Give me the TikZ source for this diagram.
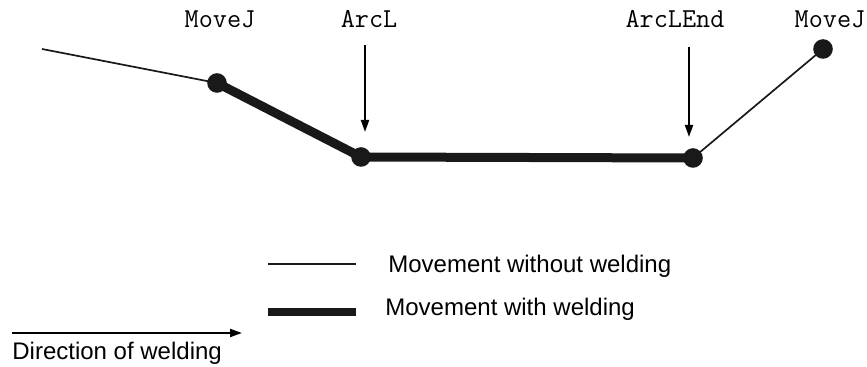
\documentclass[tikz,border=0pt]{standalone}
\usepackage{fontspec}
\setmainfont{Liberation Sans}
\usetikzlibrary{arrows.meta,positioning}

\begin{document}
\begin{tikzpicture}[
    x=0.5pt, y=-0.5pt,
    move/.style={line width=0.85pt, black!90},
    weld/.style={line width=4.5pt, black!90},
    dot/.style={circle, fill=black!90, inner sep=0pt, minimum size=9.8pt},
    pointer/.style={-{Triangle[length=6pt, width=4pt]}, line width=1pt},
    cmd/.style={font=\ttfamily\fontsize{13.7}{16}\selectfont, inner sep=0pt, anchor=base},
    label/.style={font=\fontsize{12}{14}\selectfont, inner sep=0pt, anchor=base west}
]
\useasboundingbox (0,0) rectangle (867,367);

% Path points
\coordinate (start) at (42,49);
\coordinate (pMoveA) at (217,83);
\coordinate (pArcL) at (361,157);
\coordinate (pArcLEnd) at (693,158);
\coordinate (pMoveB) at (823,49);

% Path
\draw[move] (start) -- (pMoveA);
\draw[weld] (pMoveA) -- (pArcL) -- (pArcLEnd);
\draw[move] (pArcLEnd) -- (pMoveB);

\node[dot] (dMoveA) at (pMoveA) {};
\node[dot] (dArcL) at (pArcL) {};
\node[dot] (dArcLEnd) at (pArcLEnd) {};
\node[dot] (dMoveB) at (pMoveB) {};

% Instruction labels
\node[cmd] (lMoveA) at (220,28) {MoveJ};
\node[cmd] (lArcL) at (369,28) {ArcL};
\node[cmd] (lArcLEnd) at (675,28) {ArcLEnd};
\node[cmd] (lMoveB) at (830,28) {MoveJ};

% Arrows to the weld points
\coordinate (tArcL) at (365,45);
\coordinate (hArcL) at (365,132);
\coordinate (tArcLEnd) at (689,47);
\coordinate (hArcLEnd) at (689,137);
\draw[pointer] (tArcL) -- (hArcL);
\draw[pointer] (tArcLEnd) -- (hArcLEnd);

% Legend
\coordinate (k1a) at (268,264);
\coordinate (k1b) at (356,264);
\coordinate (k2a) at (268,312);
\coordinate (k2b) at (356,312);
\draw[move] (k1a) -- (k1b);
\draw[weld, line width=4pt] (k2a) -- (k2b);
\node[label] (tWithout) at (388,273) {Movement without welding};
\node[label] (tWith) at (385,316) {Movement with welding};

% Direction of welding
\coordinate (dirA) at (12,333);
\coordinate (dirB) at (242,333);
\draw[pointer] (dirA) -- (dirB);
\node[label] (tDir) at (12,360) {Direction of welding};

\end{tikzpicture}
\end{document}
